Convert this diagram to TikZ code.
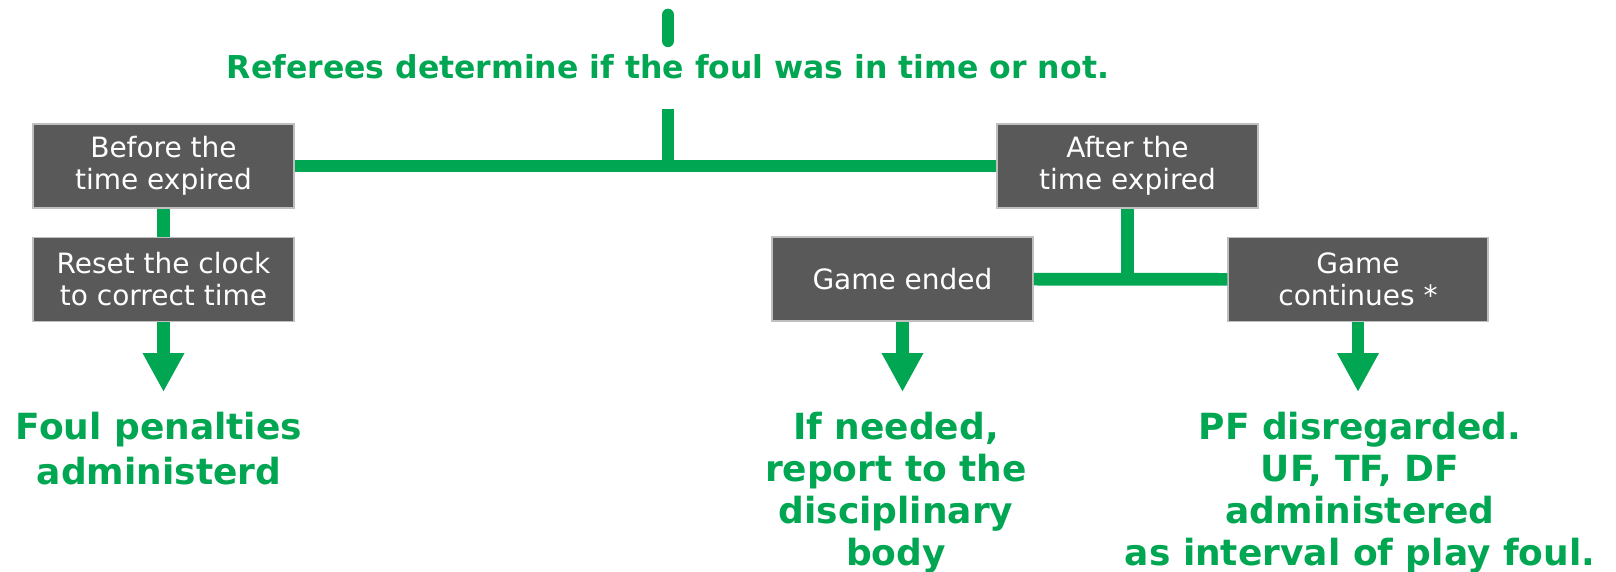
\documentclass[tikz,border=0pt]{standalone}
\usepackage{fontspec}
\setmainfont{DejaVu Sans}
\usepackage{tikz}
\usetikzlibrary{arrows.meta,positioning}
\usepackage{xcolor}
\definecolor{refgreen}{HTML}{00A651}
\definecolor{boxgray}{HTML}{595959}
\definecolor{edgegray}{HTML}{BFBFBF}

\begin{document}
\begin{tikzpicture}[x=1pt, y=-1pt,
    stage/.style={rectangle, draw=edgegray, line width=1.5pt, fill=boxgray,
                  text=white, minimum width=261pt, minimum height=84pt,
                  align=center, font=\fontsize{28}{32}\selectfont},
    outcome/.style={anchor=north, inner ysep=20pt, text=refgreen, align=center,
                    font=\fontsize{36}{45}\selectfont\bfseries},
    link/.style={refgreen, line width=12.7pt},
    down/.style={link, -{Triangle[width=39pt, length=39pt]}}]

    \useasboundingbox (0,0) rectangle (1616,572);

    % Question
    \coordinate (top) at (668,15);
    \node[anchor=base, inner sep=0pt, text height=38pt, text depth=30pt,
          text=refgreen, font=\fontsize{31.5}{36}\selectfont\bfseries]
        (title) at (668,79) {Referees determine if the foul was in time or not.};

    % Boxes
    \node[stage] (before) at (163.5,166) {Before the\\time expired};
    \node[stage] (reset) at (163.5,279.5) {Reset the clock\\to correct time};
    \node[stage] (after) at (1127.5,166) {After the\\time expired};
    \node[stage] (ended) at (902.5,279) {Game ended};
    \node[stage, minimum width=260pt] (goes) at (1358,279.5) {Game\\continues *};

    % Results
    \node[outcome] (penalty) at (159,392) {Foul penalties\\administerd};
    \node[outcome, font=\fontsize{36}{42}\selectfont\bfseries]
        (report) at (896,392) {If needed,\\report to the\\disciplinary\\body};
    \node[outcome, font=\fontsize{36}{42}\selectfont\bfseries]
        (ignore) at (1360,392) {PF disregarded.\\UF, TF, DF\\administered\\as interval of play foul.};

    % Connections
    \draw[link, line cap=round] (top) -- (title.north);
    \draw[link] (title.south) -- (title.south |- before);
    \draw[link] (before) -- (after);
    \draw[link] (before) -- (reset);
    \draw[link] (after.south) -- (after.south |- ended);
    \draw[link] (ended) -- (goes);

    % Arrows
    \draw[down] (reset.south) -- (reset.south |- penalty.north);
    \draw[down] (ended.south) -- (ended.south |- report.north);
    \draw[down] (goes.south) -- (goes.south |- ignore.north);
\end{tikzpicture}
\end{document}
